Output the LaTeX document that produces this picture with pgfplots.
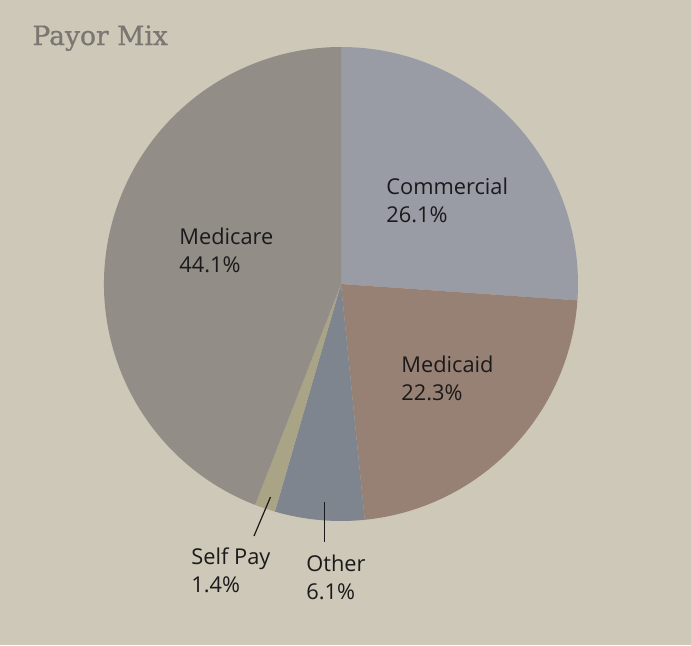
\documentclass[border=0pt]{standalone}
\usepackage{pgfplots}
\pgfplotsset{compat=1.18}
\usepackage{pgfplotstable}
\usepackage{fontspec}
\setmainfont{Open Sans}
\newfontfamily\titlefont[FakeBold=0.7]{DejaVu Serif}
\definecolor{bg}{HTML}{CEC8B8}
\definecolor{cMedicare}{HTML}{928D87}
\definecolor{cCommercial}{HTML}{999CA5}
\definecolor{cMedicaid}{HTML}{978174}
\definecolor{cOther}{HTML}{7F858E}
\definecolor{cSelf}{HTML}{A8A485}
\definecolor{titlegray}{HTML}{7A7671}
\definecolor{txt}{HTML}{1A1A1A}
% Payor mix shares (percent)
\def\vCommercial{26.1}
\def\vMedicaid{22.3}
\def\vOther{6.1}
\def\vSelf{1.4}
\def\vMedicare{44.1}
\begin{document}
\begin{tikzpicture}
\begin{axis}[
  x=0.5pt, y=0.5pt,
  xmin=0, xmax=691, ymin=0, ymax=645,
  hide axis, clip=false,
  at={(0,0)}, anchor=south west,
]
\fill[bg] (axis cs:0,0) rectangle (axis cs:691,645);
\pgfmathsetmacro{\aA}{90}
\pgfmathsetmacro{\aB}{\aA-3.6*\vCommercial}
\pgfmathsetmacro{\aC}{\aB-3.6*\vMedicaid}
\pgfmathsetmacro{\aD}{\aC-3.6*\vOther}
\pgfmathsetmacro{\aE}{\aD-3.6*\vSelf}
\pgfmathsetmacro{\aF}{\aE-3.6*\vMedicare}
\def\R{118.5pt}
\fill[cCommercial] (axis cs:341,361) -- ++(\aA:\R) arc[start angle=\aA, end angle=\aB, radius=\R] -- cycle;
\fill[cMedicaid] (axis cs:341,361) -- ++(\aB:\R) arc[start angle=\aB, end angle=\aC, radius=\R] -- cycle;
\fill[cOther] (axis cs:341,361) -- ++(\aC:\R) arc[start angle=\aC, end angle=\aD, radius=\R] -- cycle;
\fill[cSelf] (axis cs:341,361) -- ++(\aD:\R) arc[start angle=\aD, end angle=\aE, radius=\R] -- cycle;
\fill[cMedicare] (axis cs:341,361) -- ++(\aE:\R) arc[start angle=\aE, end angle=\aF, radius=\R] -- cycle;
% title
\node[anchor=base west, inner sep=0, text=titlegray, font=\titlefont\fontsize{13.3}{15}\selectfont] at (axis cs:32,600) {Payor Mix};
% labels
\tikzset{lab/.style={anchor=base west, inner sep=0, text=txt, font=\fontsize{10.9}{12}\selectfont}}
\node[lab] at (axis cs:386,451) {Commercial};
\node[lab] at (axis cs:386,423) {26.1\%};
\node[lab] at (axis cs:179,401) {Medicare};
\node[lab] at (axis cs:179,373) {44.1\%};
\node[lab] at (axis cs:401,273) {Medicaid};
\node[lab] at (axis cs:401,245) {22.3\%};
\node[lab] at (axis cs:191,81) {Self Pay};
\node[lab] at (axis cs:191,53) {1.4\%};
\node[lab] at (axis cs:306,74) {Other};
\node[lab] at (axis cs:306,46) {6.1\%};
\draw[txt, line width=0.6pt] (axis cs:270.5,148) -- (axis cs:254,109);
\draw[txt, line width=0.6pt] (axis cs:324.7,143) -- (axis cs:324.7,103);
\end{axis}
\end{tikzpicture}
\end{document}
